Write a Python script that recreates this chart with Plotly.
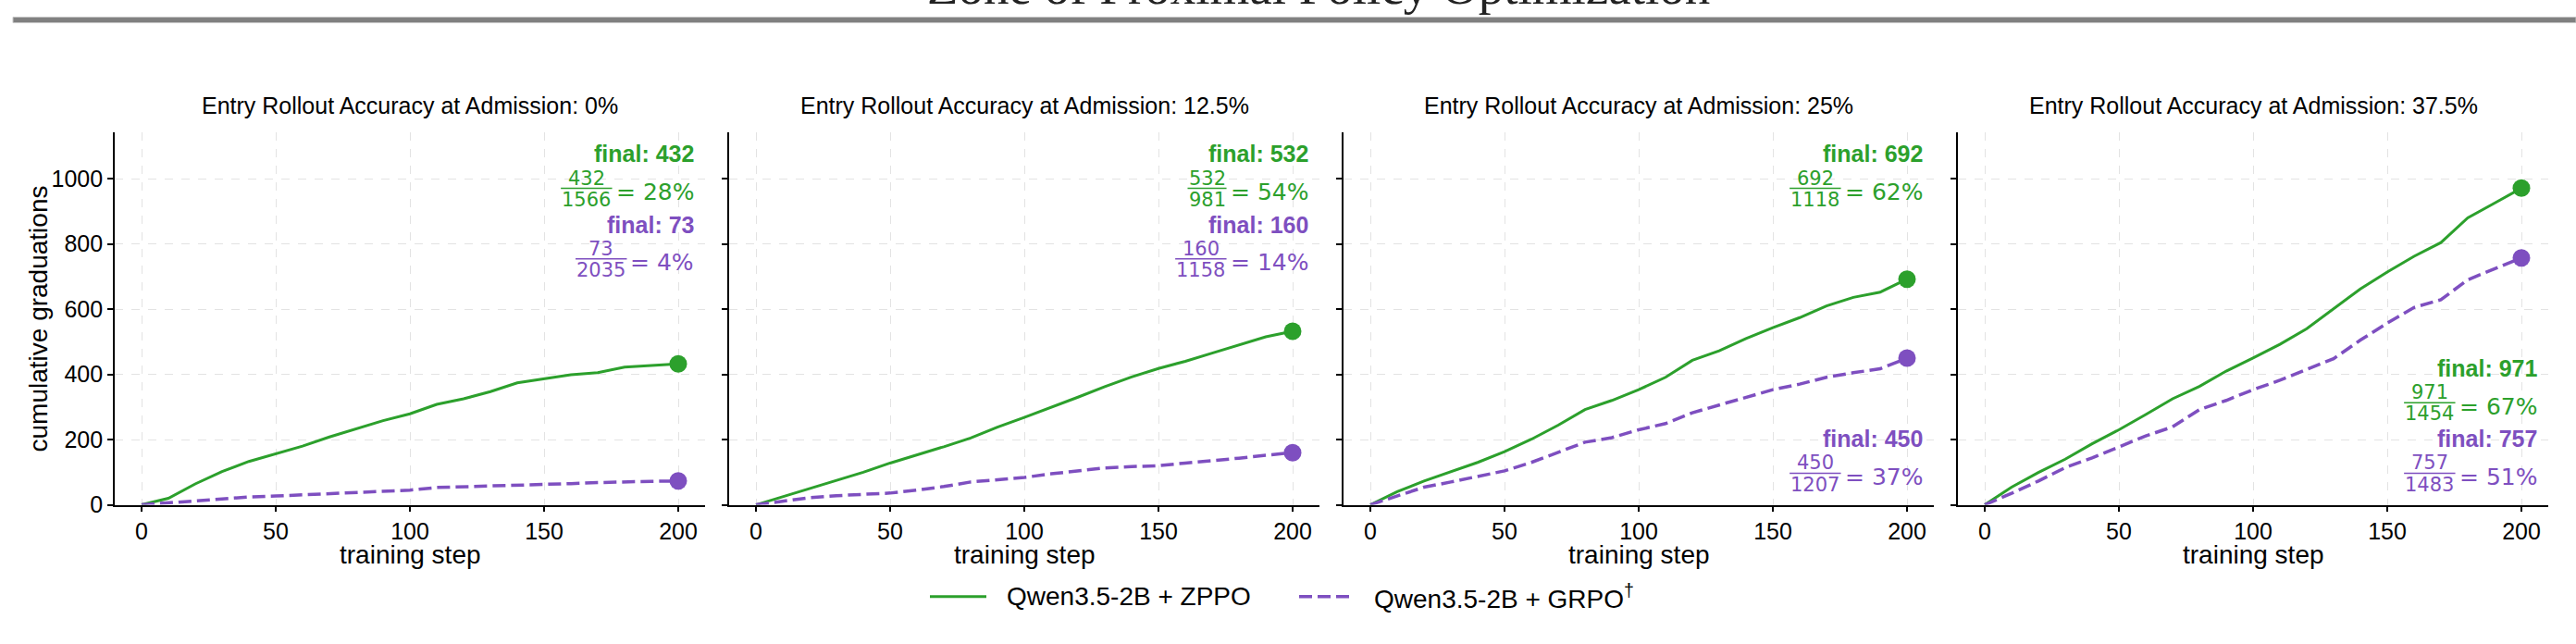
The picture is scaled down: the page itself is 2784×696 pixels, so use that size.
import plotly.graph_objects as go

# reference picture size (all positions below are given in these pixels)
W, H = 2784, 696
# the photographed page is squeezed slightly in height; size the figure to compensate
FIG_W, FIG_H = 2784, 712

# ---------------- data ----------------
steps = [0, 10, 20, 30, 40, 50, 60, 70, 80, 90, 100, 110, 120, 130, 140, 150, 160, 170, 180, 190, 200]

panel_titles = [
    "Entry Rollout Accuracy at Admission: 0%",
    "Entry Rollout Accuracy at Admission: 12.5%",
    "Entry Rollout Accuracy at Admission: 25%",
    "Entry Rollout Accuracy at Admission: 37.5%",
]

zppo_acc0 = [0, 20, 64, 102, 133, 156, 180, 208, 233, 258, 279, 308, 325, 347, 374, 387, 399, 405, 422, 427, 432]
grpo_acc0 = [0, 5, 12, 18, 24, 27, 31, 35, 39, 42, 45, 53, 55, 57, 59, 61, 65, 68, 71, 72, 73]

zppo_acc125 = [0, 25, 48, 75, 100, 128, 152, 178, 205, 238, 268, 298, 330, 362, 392, 418, 440, 465, 490, 515, 532]
grpo_acc125 = [0, 12, 22, 28, 33, 36, 45, 56, 70, 78, 84, 95, 105, 113, 117, 120, 128, 135, 143, 152, 160]

zppo_acc25 = [0, 40, 73, 102, 130, 163, 201, 244, 292, 320, 353, 391, 443, 472, 510, 543, 574, 610, 636, 652, 692]
grpo_acc25 = [0, 26, 54, 70, 87, 104, 130, 160, 192, 206, 230, 249, 282, 306, 330, 353, 370, 391, 405, 417, 450]

zppo_acc375 = [0, 54, 99, 140, 187, 230, 277, 325, 363, 410, 450, 492, 540, 600, 662, 714, 762, 804, 880, 925, 971]
grpo_acc375 = [0, 35, 73, 114, 144, 178, 211, 239, 292, 320, 353, 382, 415, 448, 505, 557, 605, 629, 690, 724, 757]

zppo_series = [zppo_acc0, zppo_acc125, zppo_acc25, zppo_acc375]
grpo_series = [grpo_acc0, grpo_acc125, grpo_acc25, grpo_acc375]

zppo_denoms = [1566, 981, 1118, 1454]
grpo_denoms = [2035, 1158, 1207, 1483]

series_names = ["Qwen3.5-2B + ZPPO", "Qwen3.5-2B + GRPO<sup>†</sup>"]
x_ticks = [0, 50, 100, 150, 200]
y_ticks = [0, 200, 400, 600, 800, 1000]

# annotation placement per panel: (zppo block, grpo block)
label_blocks = [("top", "top"), ("top", "top"), ("top", "bottom"), ("bottom", "bottom")]

# ---------------- style ----------------
GREEN = "#2ca02c"
PURPLE = "#7E4FC0"
SANS = "Liberation Sans, Arial, sans-serif"
MATH = "DejaVu Sans, sans-serif"
SERIF = "Liberation Serif, Times New Roman, serif"


def fx(px):
    return px / W


def fy(py):
    return 1 - py / H


PANEL_L0, PANEL_W, PANEL_STEP = 124, 638, 664
PLOT_TOP, PLOT_BOT = 143, 544

fig = go.Figure()
layout = dict(
    width=FIG_W, height=FIG_H,
    margin=dict(l=0, r=0, t=0, b=0),
    paper_bgcolor="white", plot_bgcolor="white",
    showlegend=False,
    font=dict(family=SANS, color="black"),
)
annotations = []
shapes = []

for i in range(4):
    left = PANEL_L0 + PANEL_STEP * i
    right = left + PANEL_W
    xa = "x" if i == 0 else f"x{i+1}"
    ya = "y" if i == 0 else f"y{i+1}"
    axis_common = dict(
        showline=True, linecolor="black", linewidth=1.6,
        ticks="outside", ticklen=6, tickwidth=1.5, tickcolor="black",
        showgrid=True, gridcolor="#e3e3e3", griddash="dash", gridwidth=1,
        zeroline=False, tickfont=dict(size=25, family=SANS, color="black"),
    )
    layout["xaxis" if i == 0 else f"xaxis{i+1}"] = dict(
        axis_common, domain=[fx(left), fx(right)], range=[-10, 210],
        tickvals=x_ticks, anchor=ya,
    )
    layout["yaxis" if i == 0 else f"yaxis{i+1}"] = dict(
        axis_common, domain=[fy(PLOT_BOT), fy(PLOT_TOP)], range=[0, 1141],
        tickvals=y_ticks, anchor=xa, showticklabels=(i == 0),
    )

    zs, gs = zppo_series[i], grpo_series[i]
    fig.add_trace(go.Scatter(x=steps, y=zs, mode="lines", xaxis=xa, yaxis=ya,
                             line=dict(color=GREEN, width=3), name=series_names[0]))
    fig.add_trace(go.Scatter(x=steps, y=gs, mode="lines", xaxis=xa, yaxis=ya,
                             line=dict(color=PURPLE, width=3.5, dash="14px,6px"), name=series_names[1]))
    fig.add_trace(go.Scatter(x=[steps[-1]], y=[zs[-1]], mode="markers", xaxis=xa, yaxis=ya,
                             marker=dict(color=GREEN, size=19), showlegend=False))
    fig.add_trace(go.Scatter(x=[steps[-1]], y=[gs[-1]], mode="markers", xaxis=xa, yaxis=ya,
                             marker=dict(color=PURPLE, size=19), showlegend=False))

    # subplot title
    annotations.append(dict(text=panel_titles[i], x=fx((left + right) / 2), y=fy(114),
                            xref="paper", yref="paper", showarrow=False,
                            xanchor="center", yanchor="middle", font=dict(size=25, family=SANS)))
    # x axis title
    annotations.append(dict(text="training step", x=fx((left + right) / 2), y=fy(598),
                            xref="paper", yref="paper", showarrow=False,
                            xanchor="center", yanchor="middle", font=dict(size=28, family=SANS)))

    # final-value labels with fractions
    R = right - 10
    for k, (vals, denom, color) in enumerate([(zs, zppo_denoms[i], GREEN), (gs, grpo_denoms[i], PURPLE)]):
        final = vals[-1]
        pct = round(100 * final / denom)
        block = label_blocks[i][k]
        top = 166 if block == "top" else 397
        fy_final = top + 76 * k
        bar_y = fy_final + 37
        annotations.append(dict(text=f"<b>final: {final}</b>", x=fx(R), y=fy(fy_final),
                                xref="paper", yref="paper", showarrow=False,
                                xanchor="right", yanchor="middle",
                                font=dict(size=25, family=SANS, color=color)))
        eq = f"= {pct}%"
        eq_w = 25 * (0.838 + 0.318 + 0.636 * len(str(pct)) + 0.95)
        frac_w = 21 * 0.636 * max(len(str(final)), len(str(denom)))
        cx = R - eq_w - 7 - frac_w / 2
        annotations.append(dict(text=eq, x=fx(R), y=fy(bar_y + 4),
                                xref="paper", yref="paper", showarrow=False,
                                xanchor="right", yanchor="middle",
                                font=dict(size=25, family=MATH, color=color)))
        annotations.append(dict(text=str(final), x=fx(cx), y=fy(bar_y - 11),
                                xref="paper", yref="paper", showarrow=False,
                                xanchor="center", yanchor="middle",
                                font=dict(size=21, family=MATH, color=color)))
        annotations.append(dict(text=str(denom), x=fx(cx), y=fy(bar_y + 12),
                                xref="paper", yref="paper", showarrow=False,
                                xanchor="center", yanchor="middle",
                                font=dict(size=21, family=MATH, color=color)))
        shapes.append(dict(type="line", xref="paper", yref="paper",
                           x0=fx(cx - frac_w / 2 - 1), x1=fx(cx + frac_w / 2 + 1),
                           y0=fy(bar_y), y1=fy(bar_y), line=dict(color=color, width=1.5)))

# y axis title
annotations.append(dict(text="cumulative graduations", x=fx(41), y=fy((PLOT_TOP + PLOT_BOT) / 2),
                        xref="paper", yref="paper", showarrow=False, textangle=-90,
                        xanchor="center", yanchor="middle", font=dict(size=28, family=SANS)))

# clipped page heading and rule
annotations.append(dict(text="Zone of Proximal Policy Optimization", x=fx(1425), y=fy(-14),
                        xref="paper", yref="paper", showarrow=False,
                        xanchor="center", yanchor="middle",
                        font=dict(size=55, family=SERIF, color="#222222")))
shapes.append(dict(type="rect", xref="paper", yref="paper", x0=fx(14), x1=1,
                   y0=fy(24.5), y1=fy(18.5), fillcolor="#808080",
                   line=dict(color="#c4c4c4", width=1)))

# legend (drawn manually)
shapes.append(dict(type="line", xref="paper", yref="paper", x0=fx(1005), x1=fx(1066),
                   y0=fy(643), y1=fy(643), line=dict(color=GREEN, width=3)))
annotations.append(dict(text=series_names[0], x=fx(1086), y=fy(643), xref="paper", yref="paper",
                        showarrow=False, xanchor="left", yanchor="middle",
                        font=dict(size=28, family=SANS)))
shapes.append(dict(type="line", xref="paper", yref="paper", x0=fx(1404), x1=fx(1461),
                   y0=fy(643), y1=fy(643), line=dict(color=PURPLE, width=3.5, dash="14px,6px")))
annotations.append(dict(text=series_names[1], x=fx(1483), y=fy(643), xref="paper", yref="paper",
                        showarrow=False, xanchor="left", yanchor="middle",
                        font=dict(size=28, family=SANS)))

layout["annotations"] = annotations
layout["shapes"] = shapes
fig.update_layout(**layout)
fig.write_html("out.html")
